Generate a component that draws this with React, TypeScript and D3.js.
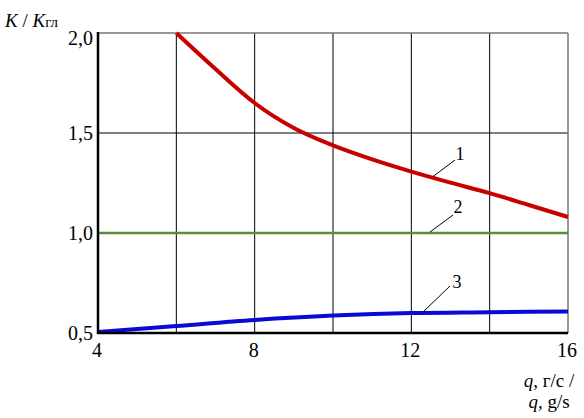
import React from 'react';
import * as d3 from 'd3';

const width = 584;
const height = 418;

// curve 1 (red), curve 2 (green), curve 3 (blue)
const qRed = [6, 7, 8, 9, 10, 11, 12, 13, 14, 15, 16];
const kRed = [2.0, 1.82, 1.65, 1.525, 1.438, 1.368, 1.307, 1.252, 1.199, 1.14, 1.08];
const qGreen = [4, 16];
const kGreen = [1.0, 1.0];
const qBlue = [4, 6, 8, 10, 12, 14, 16];
const kBlue = [0.505, 0.535, 0.565, 0.587, 0.6, 0.604, 0.608];

const xGrid = [4, 6, 8, 10, 12, 14, 16];
const xLabels = [4, 8, 12, 16];
const yTicks = [0.5, 1.0, 1.5, 2.0];

const font = "'Liberation Serif'";

const x = d3.scaleLinear().domain([4, 16]).range([98, 568]);
const y = d3.scaleLinear().domain([0.5, 2.0]).range([333, 33]);

const line = d3
  .line<[number, number]>()
  .x((d) => x(d[0]))
  .y((d) => y(d[1]))
  .curve(d3.curveMonotoneX);

const zip = (a: number[], b: number[]) => a.map((v, i) => [v, b[i]] as [number, number]);

const fmt = (v: number) => v.toFixed(1).replace('.', ',');

const txt = { fontFamily: font };

export default function App() {
  return (
    <svg width={width} height={height} style={{ position: 'absolute', left: 0, top: 0 }}>
      <rect width={width} height={height} fill="#fff" />
      {/* grid */}
      {xGrid.slice(1, -1).map((v) => (
        <line key={'gx' + v} x1={x(v)} x2={x(v)} y1={y(2.0)} y2={y(0.5)} stroke="#000" strokeWidth={1} />
      ))}
      {yTicks.slice(1, -1).map((v) => (
        <line key={'gy' + v} x1={x(4)} x2={x(16)} y1={y(v)} y2={y(v)} stroke="#000" strokeWidth={1} />
      ))}
      {/* frame: top/right gray */}
      <line x1={x(4)} x2={x(16)} y1={y(2.0)} y2={y(2.0)} stroke="#777" strokeWidth={1.5} />
      <line x1={x(16)} x2={x(16)} y1={y(2.0)} y2={y(0.5)} stroke="#777" strokeWidth={1.5} />

      {/* curves */}
      <path d={line(zip(qGreen, kGreen)) || ''} fill="none" stroke="#5b8c3a" strokeWidth={2.5} />
      <path d={line(zip(qRed, kRed)) || ''} fill="none" stroke="#c80000" strokeWidth={4} />
      <path d={line(zip(qBlue, kBlue)) || ''} fill="none" stroke="#0a0ad2" strokeWidth={4} />

      {/* axes: left/bottom black */}
      <line x1={x(4)} x2={x(4)} y1={y(2.0) - 1} y2={y(0.5) + 1} stroke="#000" strokeWidth={2.5} />
      <line x1={x(4) - 1} x2={x(16)} y1={y(0.5)} y2={y(0.5)} stroke="#000" strokeWidth={2.5} />

      {/* y tick labels */}
      {yTicks.map((v) => (
        <text
          key={'ty' + v}
          x={x(4) - 5}
          y={y(v) + (v === 2.0 ? 12 : 7)}
          textAnchor="end"
          style={txt}
          fontSize={20}
        >
          {fmt(v)}
        </text>
      ))}
      {/* x tick labels */}
      {xLabels.map((v) => (
        <text key={'tx' + v} x={x(v) - 1} y={357} textAnchor="middle" style={txt} fontSize={20}>
          {v}
        </text>
      ))}

      {/* curve labels */}
      <line x1={433} y1={176.5} x2={455} y2={160} stroke="#000" strokeWidth={1} />
      <text x={460} y={160} textAnchor="middle" style={txt} fontSize={18}>1</text>
      <line x1={430} y1={232} x2={453} y2={215} stroke="#000" strokeWidth={1} />
      <text x={458} y={213} textAnchor="middle" style={txt} fontSize={18}>2</text>
      <line x1={423} y1={312} x2={450} y2={286} stroke="#000" strokeWidth={1} />
      <text x={457} y={288} textAnchor="middle" style={txt} fontSize={18}>3</text>

      {/* axis titles */}
      <text x={5} y={27} style={txt} fontSize={19}>
        <tspan fontStyle="italic">K</tspan>
        <tspan> / </tspan>
        <tspan fontStyle="italic">K</tspan>
        <tspan fontSize={15}>гл</tspan>
      </text>
      <text x={549} y={387} textAnchor="middle" style={txt} fontSize={19}>
        <tspan fontStyle="italic">q</tspan>
        <tspan>, г/с /</tspan>
      </text>
      <text x={549} y={408} textAnchor="middle" style={txt} fontSize={19}>
        <tspan fontStyle="italic">q</tspan>
        <tspan>, g/s</tspan>
      </text>
    </svg>
  );
}
